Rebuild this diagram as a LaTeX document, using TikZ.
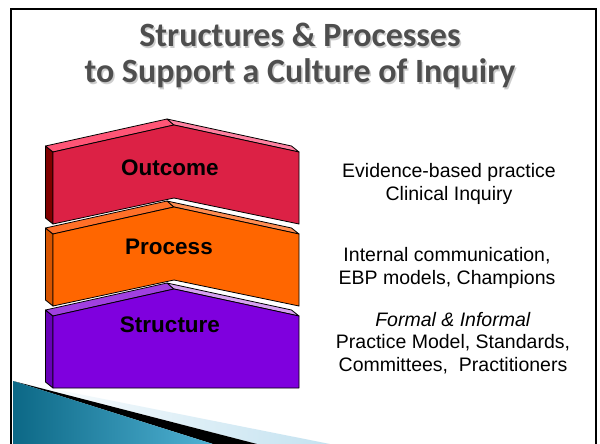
\documentclass[tikz,border=0pt]{standalone}
\usepackage{fontspec}
\setmainfont{Liberation Sans}
\newfontfamily\titlefont{Carlito}
\begin{document}
\begin{tikzpicture}[x={(1pt,0pt)},y={(0pt,-1pt)},
  edge/.style={draw=black,line width=0.8pt,line join=round},
  lbl/.style={font=\fontsize{22.5}{26}\selectfont\bfseries,text=black,inner sep=0pt},
  desc/.style={font=\fontsize{19.5}{22.5}\selectfont,align=center,text=black,inner sep=0pt},
  ttl/.style={font=\titlefont\fontsize{34}{36}\selectfont\bfseries,inner sep=0pt,anchor=base}]
\useasboundingbox (0,0) rectangle (600,444);
\fill[white] (0,0) rectangle (600,444);
% colours
\definecolor{oF}{RGB}{220,33,69}\definecolor{oTL}{RGB}{255,85,118}\definecolor{oTR}{RGB}{255,128,160}\definecolor{oS}{RGB}{128,0,0}
\definecolor{pF}{RGB}{255,102,0}\definecolor{pTL}{RGB}{255,112,40}\definecolor{pTR}{RGB}{255,140,80}\definecolor{pS}{RGB}{215,85,0}
\definecolor{sF}{RGB}{127,0,222}\definecolor{sTL}{RGB}{160,64,224}\definecolor{sTR}{RGB}{214,160,240}\definecolor{sS}{RGB}{104,0,184}
\definecolor{ttlgray}{RGB}{78,78,78}\definecolor{ttlshadow}{RGB}{205,205,205}
\definecolor{tealA}{RGB}{12,104,134}\definecolor{tealB}{RGB}{80,178,212}\definecolor{paleblue}{RGB}{196,226,240}
% swoosh
\shade[left color=white,right color=paleblue] (13,381) -- (330,444) -- (257,444) -- cycle;
\fill[black] (13,381) -- (257,444) -- (213,444) -- cycle;
\shade[left color=tealA,right color=tealB] (13,381) -- (213,444) -- (13,444) -- cycle;
% frame
\draw[line width=2pt] (11,444) -- (11,9) -- (596,9) -- (596,444);
% title
\node[ttl,text=ttlshadow] at (301.5,48.2) {Structures \& Processes};
\node[ttl,text=ttlgray] (t1) at (300,46.7) {Structures \& Processes};
\node[ttl,text=ttlshadow] at (301.5,84.2) {to Support a Culture of Inquiry};
\node[ttl,text=ttlgray] (t2) at (300,82.7) {to Support a Culture of Inquiry};
% block macro: #1 top y, #2 bottom-apex rise (0 = flat), colours front, top-left, top-right, side
\newcommand{\chevblock}[6]{%
  \pgfmathsetmacro{\ty}{#1}\pgfmathsetmacro{\ay}{#1-27}%
  \pgfmathsetmacro{\by}{#1+72}\pgfmathsetmacro{\bay}{#1+72-#2}%
  \fill[#6,edge] (53,\ty) -- (45.5,\ty-6) -- (45.5,\by-6) -- (53,\by) -- cycle;
  \fill[#4,edge] (53,\ty) -- (174,\ay) -- (167,\ay-6) -- (45.5,\ty-6) -- cycle;
  \fill[#5,edge] (174,\ay) -- (299,\ty) -- (291.5,\ty-6) -- (167,\ay-6) -- cycle;
  \fill[#3,edge] (53,\ty) -- (174,\ay) -- (299,\ty) -- (299,\by) -- (174,\bay) -- (53,\by) -- cycle;
}
\chevblock{152}{26}{oF}{oTL}{oTR}{oS}
\chevblock{234}{26}{pF}{pTL}{pTR}{pS}
\chevblock{316}{0}{sF}{sTL}{sTR}{sS}
% labels
\node[lbl] (outcome) at (170,168) {Outcome};
\node[lbl] (process) at (169,247) {Process};
\node[lbl] (structure) at (170,325) {Structure};
% descriptions
\node[desc] (d1) at (449,184) {Evidence-based practice\\Clinical Inquiry};
\node[desc] (d2) at (447,268) {Internal communication,\\EBP models, Champions};
\node[desc] (d3) at (453,343) {\textit{Formal \& Informal}\\Practice Model, Standards,\\Committees,~~Practitioners};
\end{tikzpicture}
\end{document}
